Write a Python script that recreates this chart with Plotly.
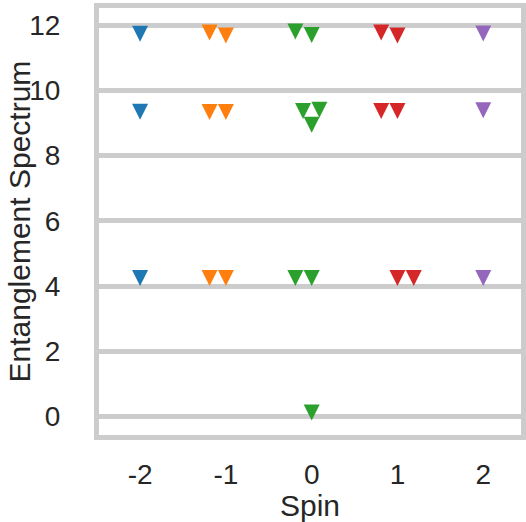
import plotly.graph_objects as go

# ---- data ----
spin_labels = ["-2", "-1", "0", "1", "2"]
spin_ticks = [-2, -1, 0, 1, 2]
y_ticks = [0, 2, 4, 6, 8, 10, 12]
y_ticklabels = ["0", "2", "4", "6", "8", "10", "12"]
x_title = "Spin"
y_title = "Entanglement Spectrum"

x_m2 = [-2.0, -2.0, -2.0]
y_m2 = [11.74, 9.35, 4.25]

x_m1 = [-1.19, -1.0, -1.19, -1.0, -1.19, -1.0]
y_m1 = [11.78, 11.69, 9.34, 9.34, 4.25, 4.25]

x_0 = [-0.19, 0.0, -0.1, 0.09, 0.0, -0.19, 0.0, 0.0]
y_0 = [11.81, 11.70, 9.37, 9.41, 8.95, 4.25, 4.25, 0.12]

x_p1 = [0.81, 1.0, 0.81, 1.0, 1.0, 1.19]
y_p1 = [11.78, 11.69, 9.37, 9.37, 4.25, 4.25]

x_p2 = [2.0, 2.0, 2.0]
y_p2 = [11.75, 9.39, 4.25]

series = [
    ("S=-2", x_m2, y_m2, "#1f77b4"),
    ("S=-1", x_m1, y_m1, "#ff7f0e"),
    ("S=0", x_0, y_0, "#2ca02c"),
    ("S=1", x_p1, y_p1, "#d62728"),
    ("S=2", x_p2, y_p2, "#9467bd"),
]

fig = go.Figure()
for name, xs, ys, col in series:
    fig.add_trace(go.Scatter(
        x=xs, y=ys, mode="markers", name=name,
        marker=dict(symbol="arrow-down", size=16, standoff=8,
                    color=col, line=dict(width=0)),
        showlegend=False,
    ))

font_family = "Liberation Sans, Arial, sans-serif"
text_col = "#262626"
grid_col = "#cccccc"

fig.update_layout(
    width=526, height=522,
    margin=dict(l=99, r=5, t=8, b=87, autoexpand=False),
    paper_bgcolor="white", plot_bgcolor="white",
    font=dict(family=font_family, color=text_col, size=28),
)
fig.update_xaxes(
    range=[-2.479, 2.44], automargin=False,
    tickmode="array", tickvals=spin_ticks, ticktext=spin_labels,
    showgrid=False, zeroline=False,
    showline=True, linecolor=grid_col, linewidth=5, mirror=True,
    ticks="", ticklabelstandoff=10,
    tickfont=dict(size=28, color=text_col),
    title=dict(text=x_title, font=dict(size=30, color=text_col), standoff=6),
)
fig.update_yaxes(
    range=[-0.57, 12.53], automargin=False,
    tickmode="array", tickvals=y_ticks, ticktext=y_ticklabels,
    showgrid=True, gridcolor=grid_col, gridwidth=4.5, zeroline=False,
    showline=True, linecolor=grid_col, linewidth=5, mirror=True,
    ticks="", ticklabelstandoff=28,
    tickfont=dict(size=28, color=text_col),
)
fig.add_annotation(
    text=y_title, textangle=-90,
    xref="paper", yref="paper", x=0, y=0.5,
    xanchor="center", yanchor="middle", xshift=-80,
    showarrow=False, font=dict(size=30, color=text_col),
)

fig.write_html(
    "out.html",
    config={"displayModeBar": False},
    post_script="document.body.style.margin='0';document.body.style.overflow='hidden';",
)
